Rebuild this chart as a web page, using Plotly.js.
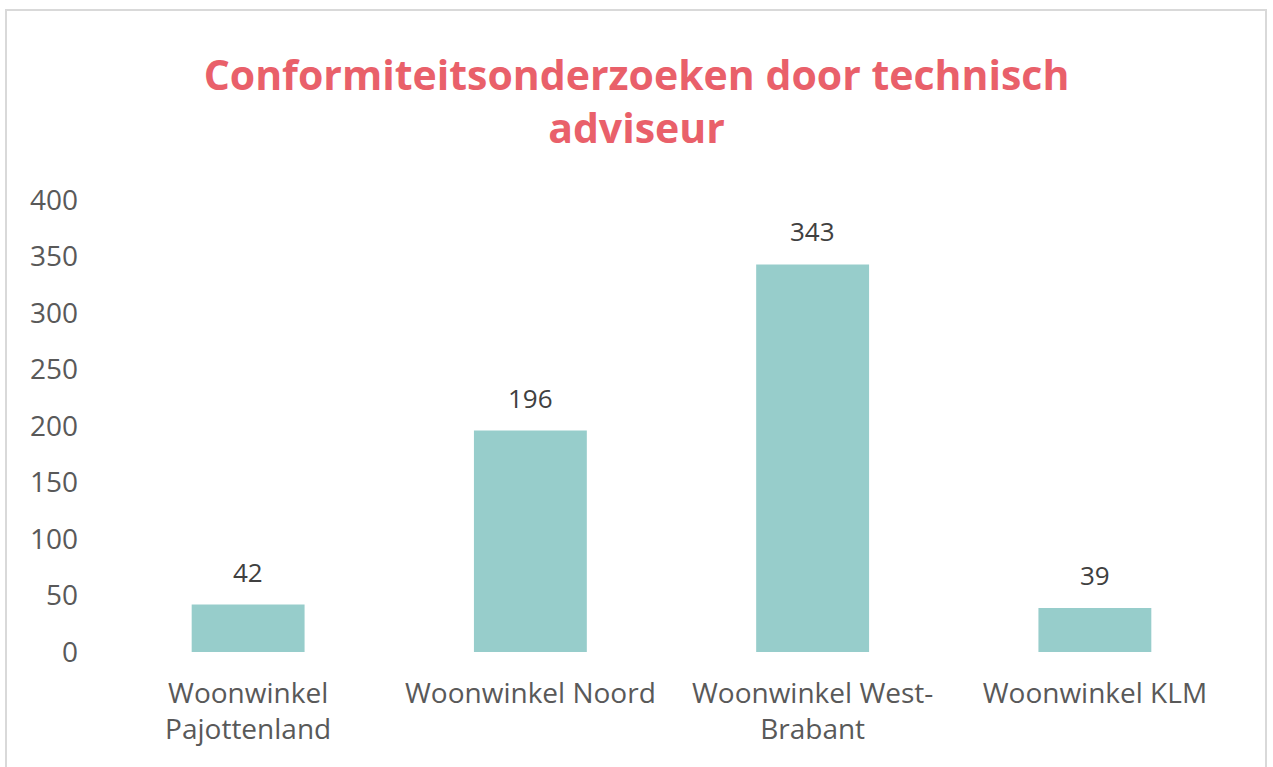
<!DOCTYPE html>
<html>
<head>
<meta charset="utf-8">
<script src="https://cdn.plot.ly/plotly-3.0.1.min.js"></script>
<style>
  html, body { margin: 0; padding: 0; background: #ffffff; }
  #wrap { position: relative; width: 1273px; height: 767px; overflow: hidden; }
  #chart { width: 1273px; height: 767px; }
  #frame { position: absolute; left: 5px; top: 9px; width: 1262px; height: 800px;
           border: 2px solid #d9d9d9; pointer-events: none; box-sizing: border-box; }
</style>
</head>
<body>
<div id="wrap">
  <div id="chart"></div>
  <div id="frame"></div>
</div>
<script>
const categories = ["Woonwinkel<br>Pajottenland", "Woonwinkel Noord", "Woonwinkel West-<br>Brabant", "Woonwinkel KLM"];
const values = [42, 196, 343, 39];
const yTickVals = [0, 50, 100, 150, 200, 250, 300, 350, 400];
const chartTitle = "Conformiteitsonderzoeken door technisch<br>adviseur";

const FONT = "'Open Sans', 'Noto Sans', sans-serif";

const trace = {
  type: "bar",
  x: categories,
  y: values,
  marker: { color: "#97CDCB" },
  hoverinfo: "x+y"
};

const annotations = categories.map((c, i) => ({
  x: c,
  y: values[i],
  xref: "x",
  yref: "y",
  text: String(values[i]),
  showarrow: false,
  yanchor: "bottom",
  yshift: 13,
  font: { family: FONT, size: 26, color: "#404040" }
}));

const layout = {
  width: 1273,
  height: 767,
  margin: { l: 107, r: 37, t: 200, b: 115 },
  paper_bgcolor: "#ffffff",
  plot_bgcolor: "#ffffff",
  bargap: 0.6,
  showlegend: false,
  title: {
    text: chartTitle,
    x: 0.5,
    xanchor: "center",
    y: 0.883,
    yanchor: "top",
    font: { family: FONT, size: 41, color: "#E9606A", weight: "bold" }
  },
  xaxis: {
    type: "category",
    showgrid: false,
    zeroline: false,
    showline: false,
    ticks: "",
    ticklabelstandoff: 22,
    tickfont: { family: FONT, size: 28, color: "#595959" }
  },
  yaxis: {
    range: [0, 400],
    tickvals: yTickVals,
    showgrid: false,
    zeroline: false,
    showline: false,
    ticks: "",
    ticklabelstandoff: 28,
    tickfont: { family: FONT, size: 28, color: "#595959" }
  },
  annotations: annotations
};

Plotly.newPlot("chart", [trace], layout, { displayModeBar: false, staticPlot: true });
</script>
</body>
</html>
